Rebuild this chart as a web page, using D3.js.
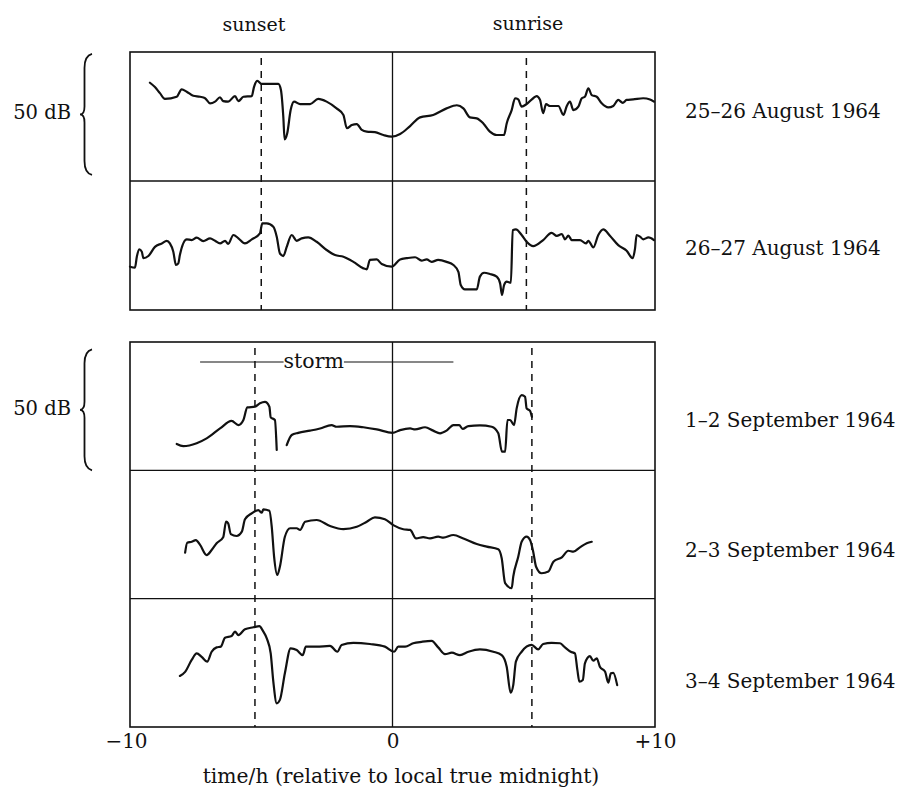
<!DOCTYPE html>
<html>
<head>
<meta charset="utf-8">
<script src="https://cdn.jsdelivr.net/npm/d3@7"></script>
<style>
  body { margin: 0; background: #fff; }
  text { font-family: "DejaVu Serif", serif; fill: #111; }
</style>
</head>
<body>
<div id="chart"></div>
<script>
// signal traces, [hour relative to midnight, dB above row floor]
var aug25 = [[-9.24,40.6],[-9.05,38.8],[-8.86,36.3],[-8.67,33.9],[-8.22,34.8],[-8.03,37.9],[-7.84,36.9],[-7.59,35.2],[-7.33,34.8],[-7.14,34.2],[-6.95,32.1],[-6.76,32.8],[-6.57,34.6],[-6.45,33.0],[-6.26,32.8],[-6.0,35.1],[-5.87,33.0],[-5.68,34.8],[-5.36,35.1],[-5.28,38.7],[-5.15,41.4],[-4.98,40.1],[-4.35,40.1],[-4.25,37.6],[-4.16,26.6],[-4.11,17.2],[-4.01,19.7],[-3.88,29.3],[-3.75,32.8],[-3.52,31.8],[-3.14,31.8],[-2.83,33.9],[-2.51,32.8],[-2.13,30.0],[-1.87,27.3],[-1.74,21.8],[-1.55,23.1],[-1.36,23.5],[-1.17,21.1],[-0.98,20.4],[-0.67,20.2],[-0.35,19.0],[-0.03,18.3],[0.29,19.4],[0.67,22.7],[1.05,26.3],[1.55,27.3],[2.06,30.0],[2.45,31.3],[2.70,30.0],[2.95,26.3],[3.21,25.9],[3.46,23.8],[3.71,20.4],[3.97,19.0],[4.25,19.0],[4.35,23.8],[4.54,29.3],[4.67,34.2],[4.79,33.7],[4.92,30.7],[5.11,31.8],[5.36,34.2],[5.49,35.1],[5.62,33.5],[5.74,28.0],[5.85,31.8],[6.0,31.0],[6.32,31.0],[6.51,27.3],[6.64,31.0],[6.76,32.8],[6.89,29.3],[7.08,30.7],[7.21,34.2],[7.33,34.8],[7.46,38.3],[7.59,35.5],[7.78,34.8],[7.97,32.1],[8.22,30.4],[8.41,31.0],[8.60,33.5],[8.77,32.3],[8.92,33.5],[9.17,33.7],[9.55,34.2],[9.81,33.7],[9.96,32.8]]

var aug26 = [[-10.0,17.9],[-9.81,17.5],[-9.74,22.0],[-9.65,25.1],[-9.55,24.1],[-9.49,21.4],[-9.30,22.3],[-9.05,26.1],[-8.79,27.5],[-8.60,28.6],[-8.48,27.5],[-8.35,24.1],[-8.25,18.6],[-8.16,19.3],[-8.10,22.7],[-7.84,29.2],[-7.65,28.9],[-7.46,29.9],[-7.21,28.5],[-6.95,29.6],[-6.76,28.6],[-6.57,27.5],[-6.38,28.6],[-6.26,27.3],[-6.06,31.0],[-5.87,29.6],[-5.62,27.5],[-5.36,29.2],[-5.05,31.7],[-4.96,35.8],[-4.79,35.8],[-4.54,34.4],[-4.41,30.3],[-4.29,23.4],[-4.16,22.3],[-4.03,26.1],[-3.84,31.0],[-3.65,28.6],[-3.46,29.6],[-3.21,30.0],[-2.89,28.2],[-2.51,24.8],[-2.19,22.7],[-1.87,22.0],[-1.49,19.9],[-1.11,17.2],[-0.98,16.8],[-0.86,20.7],[-0.60,20.9],[-0.41,19.0],[-0.03,17.9],[0.29,20.9],[0.54,21.4],[0.86,21.8],[1.11,20.4],[1.30,20.9],[1.49,19.9],[1.74,20.7],[2.06,19.9],[2.32,18.6],[2.51,15.8],[2.60,10.3],[2.76,8.5],[3.21,8.5],[3.33,13.8],[3.49,15.4],[3.71,14.9],[3.97,13.8],[4.10,11.0],[4.17,6.2],[4.25,10.3],[4.35,11.7],[4.51,11.3],[4.58,33.0],[4.70,33.3],[4.92,31.0],[5.11,28.2],[5.36,26.4],[5.74,28.9],[6.06,31.9],[6.26,30.6],[6.45,31.4],[6.57,29.2],[6.70,30.7],[6.83,28.9],[7.14,28.9],[7.37,27.5],[7.46,28.6],[7.65,25.9],[7.84,31.0],[8.03,33.3],[8.29,30.6],[8.60,26.8],[8.92,24.5],[9.15,21.4],[9.24,25.5],[9.30,31.0],[9.43,30.3],[9.55,29.2],[9.75,30.0],[9.96,28.9]]

// null value = gap in the record
var sep1 = [[-8.22,10.9],[-7.97,10.0],[-7.46,11.2],[-7.08,13.2],[-6.57,17.3],[-6.13,20.4],[-5.87,18.7],[-5.68,20.8],[-5.53,26.0],[-5.24,26.3],[-5.05,27.7],[-4.86,28.3],[-4.69,26.3],[-4.64,21.9],[-4.48,20.8],[-4.41,8.4],[-4.2,null],[-4.03,10.4],[-3.84,14.6],[-3.59,15.5],[-3.14,16.4],[-2.76,17.3],[-2.32,18.7],[-2.13,18.0],[-1.62,18.3],[-1.11,17.8],[-0.60,16.9],[0.0,15.5],[0.29,16.6],[0.67,17.3],[0.86,16.9],[1.24,17.8],[1.55,16.4],[1.81,15.3],[2.06,16.4],[2.32,18.7],[2.54,18.7],[2.67,17.1],[2.89,18.3],[3.33,18.6],[3.78,18.0],[4.03,15.3],[4.17,7.7],[4.29,7.7],[4.38,20.8],[4.48,20.8],[4.63,18.7],[4.73,25.6],[4.92,31.1],[5.05,30.4],[5.11,25.6],[5.24,24.6],[5.31,22.1]]

var sep2 = [[-7.90,19.0],[-7.82,23.1],[-7.65,23.5],[-7.49,24.2],[-7.33,22.2],[-7.08,18.0],[-6.89,20.1],[-6.70,22.9],[-6.45,25.4],[-6.34,31.8],[-6.26,31.1],[-6.16,26.7],[-5.94,25.9],[-5.74,27.7],[-5.62,32.8],[-5.36,35.3],[-5.11,36.6],[-4.98,35.5],[-4.92,36.9],[-4.69,36.3],[-4.60,29.7],[-4.51,17.3],[-4.39,9.8],[-4.29,13.2],[-4.10,25.6],[-3.90,29.1],[-3.65,29.1],[-3.52,28.4],[-3.33,31.8],[-2.89,32.5],[-2.38,30.0],[-1.87,28.7],[-1.36,29.7],[-0.98,31.8],[-0.67,33.6],[-0.29,32.8],[0.03,30.4],[0.41,28.7],[0.67,28.4],[0.90,24.9],[1.17,25.4],[1.43,24.9],[1.74,25.6],[1.94,25.2],[2.32,26.3],[2.70,24.9],[3.21,22.6],[3.59,21.5],[4.03,20.4],[4.16,16.7],[4.29,6.4],[4.54,4.3],[4.60,9.1],[4.79,17.3],[4.92,23.5],[5.11,25.6],[5.24,24.2],[5.36,19.4],[5.47,13.2],[5.68,10.5],[5.94,11.2],[6.13,15.3],[6.45,17.1],[6.70,19.8],[6.89,19.4],[7.14,21.2],[7.40,22.9],[7.59,23.5]]

var sep3 = [[-8.10,21.1],[-7.90,22.8],[-7.65,27.7],[-7.46,30.4],[-7.27,29.0],[-7.06,27.0],[-6.89,31.1],[-6.70,32.9],[-6.54,33.2],[-6.38,36.9],[-6.13,37.6],[-6.0,39.4],[-5.87,38.0],[-5.62,40.4],[-5.30,41.2],[-5.07,41.7],[-4.94,39.8],[-4.79,36.6],[-4.64,30.4],[-4.54,18.7],[-4.41,9.8],[-4.29,11.2],[-4.10,22.2],[-3.88,32.5],[-3.65,31.8],[-3.42,29.7],[-3.30,33.2],[-2.89,33.2],[-2.38,33.5],[-2.10,31.1],[-1.94,33.9],[-1.49,34.8],[-0.86,34.3],[-0.29,33.2],[0.06,31.1],[0.22,33.2],[0.48,33.2],[0.79,34.6],[1.11,35.2],[1.49,35.6],[1.74,32.9],[2.0,30.1],[2.26,30.7],[2.57,29.7],[2.89,31.1],[3.33,32.1],[3.84,31.1],[4.16,29.7],[4.35,24.9],[4.50,14.2],[4.60,17.3],[4.70,27.0],[4.92,31.1],[5.30,33.9],[5.55,32.1],[5.74,34.3],[6.06,34.8],[6.38,34.6],[6.57,32.9],[6.79,31.1],[6.95,30.4],[7.04,23.8],[7.12,18.7],[7.25,19.4],[7.33,26.3],[7.52,29.3],[7.65,27.4],[7.78,28.4],[7.90,24.9],[8.10,22.8],[8.22,18.3],[8.32,22.2],[8.41,22.4],[8.56,17.3]]

var dateLabels = [["25–26 August 1964", "26–27 August 1964"],
  ["1–2 September 1964", "2–3 September 1964", "3–4 September 1964"]]
var sunsetHours = [-5.0, -5.24]
var sunriseHours = [5.1, 5.31]
var braceDb = [[2.5, 52.5], [0, 50]]   // the "50 dB" scale bar
var stormHours = [-7.33, 2.32]
var xTicks = [-10, 0, 10]
var tickLabels = ["−10", "0", "+10"]

// layout
var svgWidth = 901
var svgHeight = 788
var pxPerDb = 2.42
var panels = [
  { top: 52, bottom: 310, series: [aug25, aug26], labelOffsets: [66, 74] },
  { top: 342, bottom: 727, series: [sep1, sep2, sep3], labelOffsets: [85, 87, 89] }
]

var svg = d3.select("#chart")
  .append("svg")
  .attr("width", svgWidth)
  .attr("height", svgHeight)

var xScale = d3.scaleLinear()
  .domain([-10, 10])
  .range([130, 655])

panels.forEach(function(p, pi) {
  var g = svg.append("g")
  var n = p.series.length
  var rowH = (p.bottom - p.top) / n

  // row scales
  var rowScales = p.series.map(function(s, i) {
    var rowBottom = p.top + (i + 1) * rowH
    return d3.scaleLinear()
      .domain([0, 50])
      .range([rowBottom, rowBottom - 50 * pxPerDb])
  })

  // frame
  g.append("rect")
    .attr("x", xScale(-10))
    .attr("y", p.top)
    .attr("width", xScale(10) - xScale(-10))
    .attr("height", p.bottom - p.top)
    .attr("fill", "none")
    .attr("stroke", "#111")
    .attr("stroke-width", 1.6)

  for (var i = 1; i < n; i++) {
    g.append("line")
      .attr("x1", xScale(-10)).attr("x2", xScale(10))
      .attr("y1", p.top + i * rowH).attr("y2", p.top + i * rowH)
      .attr("stroke", "#111")
      .attr("stroke-width", 1.4)
  }

  // midnight
  g.append("line")
    .attr("x1", xScale(0)).attr("x2", xScale(0))
    .attr("y1", p.top).attr("y2", p.bottom)
    .attr("stroke", "#111")
    .attr("stroke-width", 1.3)

  // sunset / sunrise
  ;[sunsetHours[pi], sunriseHours[pi]].forEach(function(h) {
    g.append("line")
      .attr("x1", xScale(h)).attr("x2", xScale(h))
      .attr("y1", p.top + 6).attr("y2", p.bottom)
      .attr("stroke", "#111")
      .attr("stroke-width", 1.5)
      .attr("stroke-dasharray", "7,6")
  })

  // traces
  p.series.forEach(function(s, i) {
    var line = d3.line()
      .defined(d => d[1] != null)
      .x(d => xScale(d[0]))
      .y(d => rowScales[i](d[1]))
      .curve(d3.curveMonotoneX)

    g.append("path")
      .datum(s)
      .attr("d", line)
      .attr("fill", "none")
      .attr("stroke", "#111")
      .attr("stroke-width", 2.2)
      .attr("stroke-linejoin", "round")
      .attr("stroke-linecap", "round")

    g.append("text")
      .attr("x", 685)
      .attr("y", p.top + i * rowH + p.labelOffsets[i])
      .attr("font-size", "20px")
      .text(dateLabels[pi][i])
  })

  // 50 dB brace
  var y0 = rowScales[0](braceDb[pi][1])
  var y1 = rowScales[0](braceDb[pi][0])
  var ym = (y0 + y1) / 2
  var xr = 92, xm = 84.5, xl = 80
  g.append("path")
    .attr("d", `M${xr},${y0} Q${xm},${y0 + 2} ${xm},${y0 + 14} L${xm},${ym - 8} Q${xm},${ym} ${xl},${ym}`
      + ` Q${xm},${ym} ${xm},${ym + 8} L${xm},${y1 - 14} Q${xm},${y1 - 2} ${xr},${y1}`)
    .attr("fill", "none")
    .attr("stroke", "#111")
    .attr("stroke-width", 1.8)

  g.append("text")
    .attr("x", 71)
    .attr("y", ym + 5)
    .attr("text-anchor", "end")
    .attr("font-size", "19.5px")
    .text("50 dB")
})

// storm period on 1–2 September
var stormY = panels[1].top + 20
var stormText = svg.append("text")
  .attr("x", xScale(-3.0))
  .attr("y", stormY + 6)
  .attr("text-anchor", "middle")
  .attr("font-size", "20.5px")
  .text("storm")
var bb = stormText.node().getBBox()
svg.append("line")
  .attr("x1", xScale(stormHours[0])).attr("x2", bb.x)
  .attr("y1", stormY).attr("y2", stormY)
  .attr("stroke", "#111").attr("stroke-width", 1.2)
svg.append("line")
  .attr("x1", bb.x + bb.width).attr("x2", xScale(stormHours[1]))
  .attr("y1", stormY).attr("y2", stormY)
  .attr("stroke", "#111").attr("stroke-width", 1.2)

// sunset / sunrise headings
svg.append("text")
  .attr("x", 254).attr("y", 31)
  .attr("text-anchor", "middle")
  .attr("font-size", "19px")
  .text("sunset")
svg.append("text")
  .attr("x", 528).attr("y", 30)
  .attr("text-anchor", "middle")
  .attr("font-size", "19px")
  .text("sunrise")

// x axis
var bottomAxis = d3.axisBottom(xScale)
  .tickValues(xTicks)
  .tickSize(0)
  .tickPadding(7)
  .tickFormat((d, i) => tickLabels[i])

var axisG = svg.append("g")
  .attr("transform", `translate(0, ${panels[1].bottom})`)
  .call(bottomAxis)
axisG.select(".domain").remove()
axisG.selectAll("text")
  .attr("font-family", "DejaVu Serif, serif")
  .attr("font-size", "20px")
  .attr("fill", "#111")
  .attr("dx", (d, i) => i === 0 ? -4 : 0)

svg.append("text")
  .attr("x", 401)
  .attr("y", 783)
  .attr("text-anchor", "middle")
  .attr("font-size", "20.3px")
  .text("time/h (relative to local true midnight)")
</script>
</body>
</html>
